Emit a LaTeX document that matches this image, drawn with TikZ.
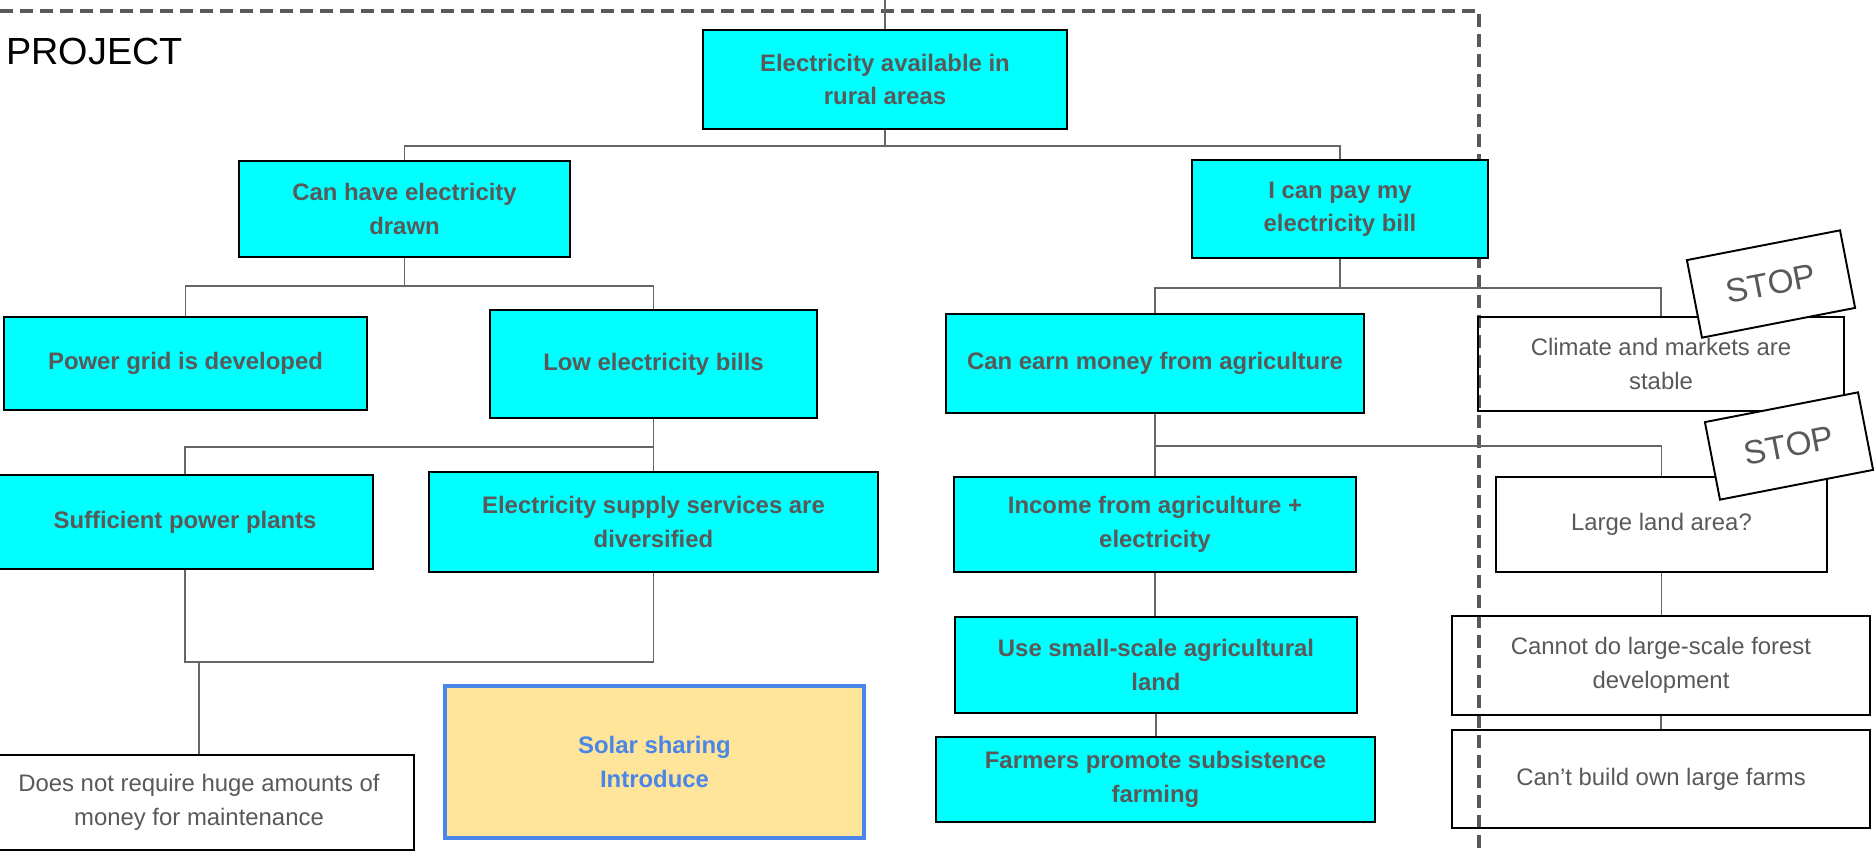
\documentclass[tikz,border=0pt]{standalone}
\usepackage{fontspec}
\setmainfont{Liberation Sans}[Ligatures=ResetAll]
\usepackage{xcolor}
\usepackage{tikz}
\usetikzlibrary{positioning,calc}

\definecolor{boxcyan}{HTML}{00FFFF}
\definecolor{txtgray}{HTML}{595959}
\definecolor{linegray}{HTML}{666666}
\definecolor{solarfill}{HTML}{FFE599}
\definecolor{solarblue}{HTML}{4A86E8}

\begin{document}
\begin{tikzpicture}[x=0.02cm, y=-0.02cm,
    sz/.style 2 args={minimum width=#1*0.02cm, minimum height=#2*0.02cm},
    goal/.style={draw=black, line width=1.1pt, fill=boxcyan, rectangle, inner sep=0pt, align=center, text=txtgray, font=\fontsize{13.6}{19}\selectfont\bfseries},
    cond/.style={draw=black, line width=1.1pt, rectangle, inner sep=0pt, align=center, text=txtgray, font=\fontsize{13.6}{19}\selectfont},
    solar/.style={draw=solarblue, line width=1.8pt, fill=solarfill, rectangle, inner sep=0pt, align=center, text=solarblue, font=\fontsize{13.6}{19}\selectfont\bfseries},
    stopsign/.style={draw=black, line width=1.1pt, fill=white, rectangle, rotate=11, inner sep=0pt, text=txtgray, font=\fontsize{19}{22}\selectfont},
    conn/.style={draw=linegray, line width=1pt},
    projline/.style={draw=txtgray, line width=2pt, dash pattern=on 7.4pt off 4pt}
]
    \useasboundingbox (0,0) rectangle (1874,851);

    % project boundary
    \draw[projline] (0,11) -| (1479,851);
    \node[anchor=base west, inner sep=0pt, font=\fontsize{21.5}{24}\selectfont] (proj) at (6,65) {PROJECT};

    % goal blocks
    \node[goal, sz={364}{99}] (top) at (885,79.5) {Electricity available in\\rural areas};
    \node[goal, sz={331}{96}] (canhave) at (404.5,209) {Can have electricity\\drawn};
    \node[goal, sz={296}{98}] (canpay) at (1340,209) {I can pay my\\electricity bill};
    \node[goal, sz={363}{93}] (grid) at (185.5,363.5) {Power grid is developed};
    \node[goal, sz={327}{108}] (lowbill) at (653.5,364) {Low electricity bills};
    \node[goal, sz={418}{99}] (earn) at (1155,363.5) {Can earn money from agriculture};
    \node[goal, sz={376}{94}] (plants) at (185,522) {Sufficient power plants};
    \node[goal, sz={449}{100}] (supply) at (653.5,522) {Electricity supply services are\\diversified};
    \node[goal, sz={402}{95}] (income) at (1155,524.5) {Income from agriculture +\\electricity};
    \node[goal, sz={402}{96}] (usesmall) at (1156,665) {Use small-scale agricultural\\land};
    \node[goal, sz={439}{85}] (farmers) at (1155.5,779.5) {Farmers promote subsistence\\farming};

    % conditions
    \node[cond, sz={366}{94}] (climate) at (1661,364) {Climate and markets are\\stable};
    \node[cond, sz={331}{95}] (large) at (1661.5,524.5) {Large land area?};
    \node[cond, sz={418}{99}] (cannot) at (1661,665.5) {Cannot do large-scale forest\\development};
    \node[cond, sz={418}{98}] (cantbuild) at (1661,779) {Can't build own large farms};
    \node[cond, sz={430}{95}] (notreq) at (199,802.5) {Does not require huge amounts of\\money for maintenance};

    % solution
    \node[solar, sz={419}{152}] (solar) at (654.5,762) {Solar sharing\\Introduce};

    % connections
    \coordinate (topend) at (885,0);
    \coordinate (join) at (199,662);
    \draw[conn] (top.north) -- (topend);
    \draw[conn] (top.south) -- ++(0,16) -| (canhave.north);
    \draw[conn] (top.south) -- ++(0,16) -| (canpay.north);
    \draw[conn] (canhave.south) -- ++(0,28) -| (grid.north);
    \draw[conn] (canhave.south) -- ++(0,28) -| (lowbill.north);
    \draw[conn] (canpay.south) -- ++(0,29) -| (earn.north);
    \draw[conn] (canpay.south) -- ++(0,29) -| (climate.north);
    \draw[conn] (lowbill.south) -- ++(0,28) -| (plants.north);
    \draw[conn] (lowbill.south) -- ++(0,28) -| (supply.north);
    \draw[conn] (earn.south) -- ++(0,32) -| (income.north);
    \draw[conn] (earn.south) -- ++(0,32) -| (large.north);
    \draw[conn] (income.south) -- (income.south |- usesmall.north);
    \draw[conn] (usesmall.south) -- (usesmall.south |- farmers.north);
    \draw[conn] (large.south) -- (large.south |- cannot.north);
    \draw[conn] (cannot.south) -- (cannot.south |- cantbuild.north);
    \draw[conn] (plants.south) |- (join) -| (supply.south);
    \draw[conn] (join) -- (join |- notreq.north);

    % stop signs
    \node[stopsign, sz={156}{79}] (stop1) at (1771,284) {STOP};
    \node[stopsign, sz={156}{79}] (stop2) at (1789,446) {STOP};
\end{tikzpicture}
\end{document}
